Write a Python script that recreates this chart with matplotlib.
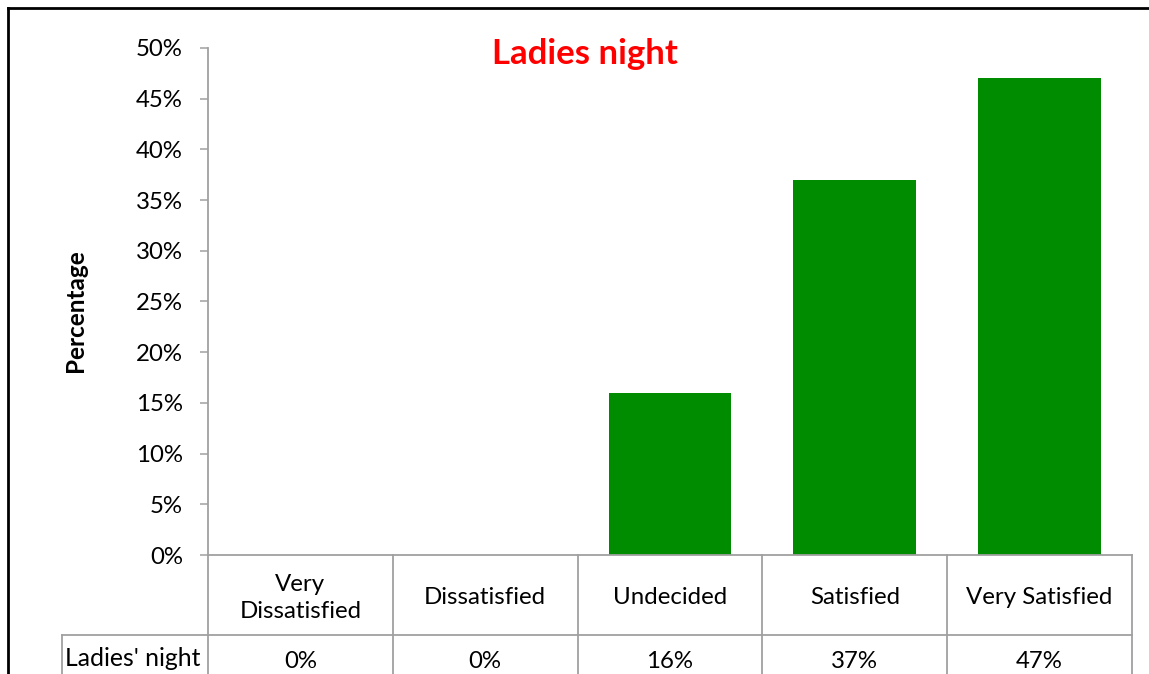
import matplotlib.pyplot as plt
from matplotlib.lines import Line2D
from matplotlib.ticker import PercentFormatter

plt.rcParams["font.family"] = ["Lato", "DejaVu Sans"]

categories = ["Very\nDissatisfied", "Dissatisfied", "Undecided", "Satisfied", "Very Satisfied"]
values = [0, 0, 16, 37, 47]
series_name = "Ladies' night"
title = "Ladies night"
y_ticks = [0, 5, 10, 15, 20, 25, 30, 35, 40, 45, 50]

W, H = 1149, 674
grey = "#a0a0a0"

fig = plt.figure(figsize=(W / 100, H / 100), dpi=100)
ax = fig.add_axes([208 / W, 1 - 555 / H, (1132 - 208) / W, (555 - 48) / H])

x = range(len(categories))
ax.bar(x, values, width=0.665, color="#008c00")
ax.set_xlim(-0.5, len(categories) - 0.5)
ax.set_ylim(0, 50)
ax.set_yticks(y_ticks)
ax.yaxis.set_major_formatter(PercentFormatter(decimals=0))
ax.set_xticks([])
ax.tick_params(axis="y", length=6, width=1.1, color=grey, pad=12, labelsize=17.3)
for side in ["top", "right"]:
    ax.spines[side].set_visible(False)
for side in ["left", "bottom"]:
    ax.spines[side].set_color(grey)
    ax.spines[side].set_linewidth(1.3)

fig.text(585 / W, 1 - 54 / H, title, ha="center", va="center",
         color="red", fontsize=25, fontweight="bold")
fig.text(75 / W, 1 - 311 / H, "Percentage", rotation=90, ha="center", va="center",
         fontsize=17.5, fontweight="bold")

# data table below the axis
axh = 555 - 48
row1 = -(635 - 555) / axh
bottom = -(H - 555) / axh - 0.05
tr = ax.get_xaxis_transform()
for k in range(len(categories) + 1):
    ax.add_line(Line2D([k - 0.5, k - 0.5], [0, bottom], transform=tr, color=grey,
                       lw=1.3, clip_on=False))
ax.add_line(Line2D([-0.5, len(categories) - 0.5], [row1, row1], transform=tr, color=grey,
                   lw=1.3, clip_on=False))
fig.add_artist(Line2D([62 / W, 208 / W], [1 - 635 / H, 1 - 635 / H], color=grey, lw=1.3))
fig.add_artist(Line2D([62 / W, 62 / W], [1 - 635 / H, 0], color=grey, lw=1.3))

for i, (cat, val) in enumerate(zip(categories, values)):
    ax.text(i, -(598 - 555) / axh, cat, transform=tr, ha="center", va="center",
            fontsize=17.3, linespacing=1.35)
    ax.text(i, -(661 - 555) / axh, f"{val}%", transform=tr, ha="center", va="center",
            fontsize=17.3)
fig.text(133 / W, 1 - 658 / H, series_name, ha="center", va="center", fontsize=17.8)

# chart frame
fig.add_artist(Line2D([8 / W, 1], [1 - 8 / H, 1 - 8 / H], color="black", lw=2))
fig.add_artist(Line2D([8 / W, 8 / W], [1 - 8 / H, 0], color="black", lw=2))

fig.savefig("out.png", dpi=100)
